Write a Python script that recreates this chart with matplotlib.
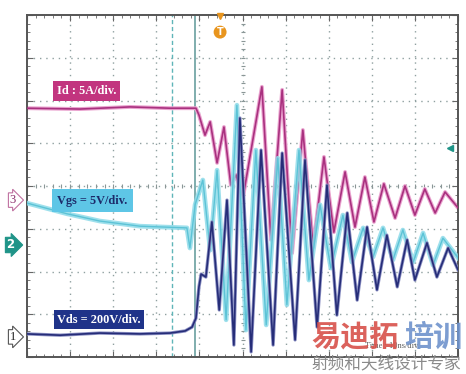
import numpy as np
import matplotlib.pyplot as plt
from matplotlib.transforms import blended_transform_factory

# time axis in ns (10 ns/div), traces in screen divisions (0 = bottom, 8 = top)
t_id = [0, 12.3, 23.9, 33.2, 39.2, 39.9, 41.3, 42.5, 44.1, 45.7, 47.3, 48.5, 50.1,
        54.5, 56.6, 59.2, 61.5, 64.0, 66.4, 68.9, 71.2, 73.8, 76.1, 78.4, 80.5,
        82.8, 85.4, 87.7, 90.0, 92.3, 94.7, 97.0, 100]
id_div = [5.82, 5.80, 5.85, 5.82, 5.82, 5.66, 5.19, 5.50, 4.54, 5.38, 4.02, 4.26, 3.72,
          6.32, 2.74, 6.25, 2.43, 5.31, 2.57, 4.68, 2.92, 4.33, 3.04, 4.21, 3.16,
          4.05, 3.25, 4.00, 3.32, 3.93, 3.37, 3.86, 3.49]

t_vgs = [0, 9.3, 16.9, 26.2, 37.1, 37.8, 39.0, 40.8, 42.5, 44.1, 46.2, 48.7, 50.8,
         53.1, 55.5, 58.2, 60.3, 63.1, 65.4, 68.0, 70.5, 73.3, 75.4, 78.0, 80.3,
         82.6, 84.9, 87.2, 89.6, 91.9, 94.2, 96.5, 100]
vgs_div = [3.60, 3.35, 3.18, 3.06, 3.02, 2.55, 3.56, 4.14, 2.50, 4.37, 0.87, 5.89, 0.63,
           4.84, 0.75, 4.65, 1.22, 4.84, 1.80, 3.56, 2.08, 3.32, 2.22, 3.02, 2.34,
           3.02, 2.27, 2.97, 2.22, 2.90, 2.15, 2.78, 2.32]

t_vds = [0, 7.7, 16.9, 26.2, 33.2, 36.7, 38.3, 39.2, 39.9, 40.4, 41.5, 42.9, 44.6,
         46.4, 48.0, 49.4, 52.0, 54.3, 57.1, 59.2, 62.2, 64.5, 67.3, 69.6, 71.9,
         74.3, 76.6, 78.9, 81.2, 83.5, 85.9, 88.2, 90.0, 92.8, 95.1, 97.7, 100]
vds_div = [0.54, 0.51, 0.56, 0.54, 0.56, 0.61, 0.70, 0.91, 1.64, 1.94, 1.87, 3.16, 1.10,
           3.67, 0.28, 5.59, 0.12, 4.84, 0.28, 4.77, 0.40, 4.61, 0.70, 4.02, 0.98,
           3.37, 1.33, 3.04, 1.57, 2.85, 1.64, 2.74, 1.80, 2.67, 1.87, 2.55, 2.04]

cursor_a = 33.6
cursor_b = 39.0
trigger_t = 44.8

fig = plt.figure(figsize=(4.66, 3.74), dpi=100)
ax = fig.add_axes([27 / 466, 17 / 374, 431 / 466, 342 / 374])
ax.set_xlim(0, 100)
ax.set_ylim(0, 8)

# graticule
for i in range(1, 10):
    ax.axvline(i * 10, color='#8fa0a0', lw=1.0, ls=(0, (1, 3.5)), zorder=0)
for j in range(1, 8):
    ax.axhline(j, color='#8fa0a0', lw=1.0, ls=(0, (1, 3.5)), zorder=0)
ax.plot(np.arange(0, 100, 2), np.full(50, 4.0), ls='none', marker='|',
        ms=3.5, color='#8a9696', mew=0.8, zorder=0)
ax.plot(np.full(40, 50.0), np.arange(0, 8, 0.2), ls='none', marker='_',
        ms=3.5, color='#8a9696', mew=0.8, zorder=0)

ax.set_xticks(np.arange(0, 101, 10))
ax.set_xticks(np.arange(0, 101, 2), minor=True)
ax.set_yticks(np.arange(0, 9, 1))
ax.set_yticks(np.arange(0, 8.01, 0.2), minor=True)
ax.tick_params(which='both', direction='in', top=True, right=True,
               labelbottom=False, labelleft=False, color='#666666')
ax.tick_params(which='major', length=4)
ax.tick_params(which='minor', length=2.5)
for s in ax.spines.values():
    s.set_color('#555555')
    s.set_linewidth(1.4)

# cursors
ax.axvline(cursor_a, color='#5fb5b8', lw=1.0, ls=(0, (3, 2)), zorder=1)
ax.axvline(cursor_b, color='#6a9fa0', lw=1.2, zorder=1)

# traces
ax.plot(t_id, id_div, color='#eaa3cf', lw=2.8, zorder=2, solid_joinstyle='round')
ax.plot(t_id, id_div, color='#a9317f', lw=1.2, zorder=3, solid_joinstyle='round')
ax.plot(t_vgs, vgs_div, color='#8edbe9', lw=3.4, alpha=0.85, zorder=4,
        solid_joinstyle='round')
ax.plot(t_vgs, vgs_div, color='#5cc3d6', lw=1.0, zorder=4, solid_joinstyle='round')
ax.plot(t_vds, vds_div, color='#8c91c4', lw=2.4, zorder=5, solid_joinstyle='round')
ax.plot(t_vds, vds_div, color='#262d78', lw=1.2, zorder=6, solid_joinstyle='round')

# channel labels
serif = ['Liberation Serif', 'DejaVu Serif']
ax.text(7.0, 6.22, 'Id : 5A/div.', color='white', fontsize=8.8, fontweight='bold',
        family=serif, ha='left', va='center', zorder=8,
        bbox=dict(boxstyle='square,pad=0.32', fc='#c2357f', ec='none'))
ax.text(7.0, 3.66, 'Vgs = 5V/div.', color='#1c2a6a', fontsize=8.8, fontweight='bold',
        family=serif, ha='left', va='center', zorder=8,
        bbox=dict(boxstyle='square,pad=0.45', fc='#5ec6e6', ec='none'))
ax.text(7.0, 0.87, 'Vds = 200V/div.', color='white', fontsize=8.8, fontweight='bold',
        family=serif, ha='left', va='center', zorder=8,
        bbox=dict(boxstyle='square,pad=0.28', fc='#1f3389', ec='none'))

# channel markers on the left edge
trans = blended_transform_factory(ax.transAxes, ax.transData)
ax.text(-0.033, 3.67, '3', transform=trans, ha='center', va='center', fontsize=9,
        color='#8a2a6a', family=serif, clip_on=False,
        bbox=dict(boxstyle='rarrow,pad=0.1', fc='white', ec='#c070a0', lw=0.8))
ax.text(-0.038, 2.62, '2', transform=trans, ha='center', va='center', fontsize=8.5,
        color='white', fontweight='bold', clip_on=False,
        bbox=dict(boxstyle='rarrow,pad=0.1', fc='#1f9488', ec='#1f9488', lw=0.8))
ax.text(-0.033, 0.47, '1', transform=trans, ha='center', va='center', fontsize=9,
        color='#222222', family=serif, clip_on=False,
        bbox=dict(boxstyle='rarrow,pad=0.1', fc='white', ec='#555555', lw=0.8))

# trigger and level markers
ax.plot([trigger_t], [7.97], marker='v', ms=4.5, color='#e8951e', clip_on=False, zorder=9)
ax.text(trigger_t, 7.6, 'T', ha='center', va='center', fontsize=7, color='white',
        fontweight='bold', zorder=9,
        bbox=dict(boxstyle='circle,pad=0.15', fc='#e8951e', ec='none'))
ax.plot([98.2], [4.89], marker='<', ms=5, color='#1f9488', zorder=9)

# bottom time base text and watermark
fig.text(365 / 466, 1 - 346 / 374, 'Time : 10ns/div.', fontsize=6, color='#333333',
         family=serif, va='center', alpha=0.8)
cjk = ['Noto Sans CJK SC', 'DejaVu Sans']
fig.text(311 / 466, 1 - 337 / 374, '易迪拓', fontsize=21, fontweight='bold',
         color='#d8514a', alpha=0.9, family=cjk, va='center')
fig.text(404 / 466, 1 - 337 / 374, '培训', fontsize=21, fontweight='bold',
         color='#6f93cc', alpha=0.9, family=cjk, va='center')
fig.text(312 / 466, 1 - 364 / 374, '射频和天线设计专家', fontsize=12,
         color='#8a8a8a', family=cjk, va='center')

fig.savefig('out.png', dpi=100)
